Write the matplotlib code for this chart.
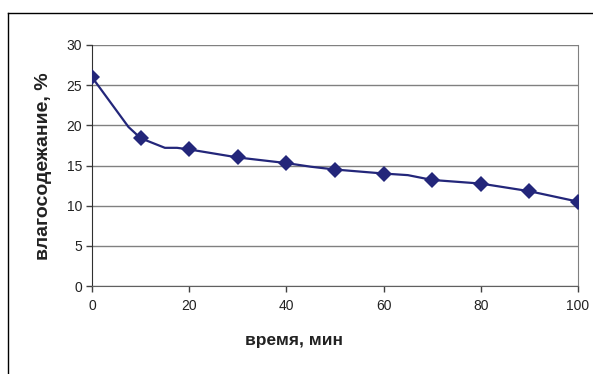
import matplotlib
matplotlib.use("Agg")
import matplotlib.pyplot as plt
from matplotlib.lines import Line2D

# measured points (markers)
time_min = [0, 10, 20, 30, 40, 50, 60, 70, 80, 90, 100]
moisture = [26, 18.4, 17, 16, 15.3, 14.5, 14, 13.2, 12.75, 11.8, 10.5]

# connecting line as drawn in the picture (has a few extra bends)
line_t = [0, 7.5, 10, 15, 17.5, 20, 30, 40, 45, 50, 60, 65, 70, 80, 90, 100]
line_m = [26, 19.8, 18.4, 17.2, 17.2, 17, 16, 15.3, 14.85, 14.5, 14, 13.8, 13.2, 12.75, 11.8, 10.5]

xticks = [0, 20, 40, 60, 80, 100]
yticks = [0, 5, 10, 15, 20, 25, 30]

plt.rcParams["font.family"] = ["Liberation Sans", "DejaVu Sans"]

navy = "#23267a"

fig = plt.figure(figsize=(5.93, 3.74), dpi=100)
ax = fig.add_axes([92 / 593, 1 - 286 / 374, (578 - 92) / 593, (286 - 45) / 374])

ax.plot(line_t, line_m, color=navy, lw=1.6, zorder=3)
ax.plot(time_min, moisture, ls="none", marker="D", ms=8, mew=0, color=navy, zorder=4)

ax.set_xlim(0, 100)
ax.set_ylim(0, 30)
ax.set_xticks(xticks)
ax.set_yticks(yticks)
ax.yaxis.grid(True, color="#808080", lw=1)
ax.set_axisbelow(True)
ax.tick_params(direction="out", length=4, width=1, color="#404040", labelsize=10, labelcolor="#222222")
ax.tick_params(axis="x", pad=5)
ax.tick_params(axis="y", pad=3)

ax.spines["top"].set_visible(False)
ax.spines["right"].set_color("#808080")
ax.spines["left"].set_color("#303030")
ax.spines["bottom"].set_color("#606060")

fig.text(294 / 593, 1 - 341 / 374, "время, мин", ha="center", va="center",
         fontsize=12.5, fontweight="bold", color="#222222")
fig.text(44 / 593, 1 - 166 / 374, "влагосодежание, %", ha="center", va="center",
         rotation=90, fontsize=14, fontweight="bold", color="#222222")

# outer frame of the chart area
fig.add_artist(Line2D([8 / 593, 8 / 593], [0, 1 - 13 / 374], transform=fig.transFigure, color="black", lw=1))
fig.add_artist(Line2D([8 / 593, 1], [1 - 13 / 374, 1 - 13 / 374], transform=fig.transFigure, color="black", lw=1))

fig.savefig("out.png", dpi=100)
